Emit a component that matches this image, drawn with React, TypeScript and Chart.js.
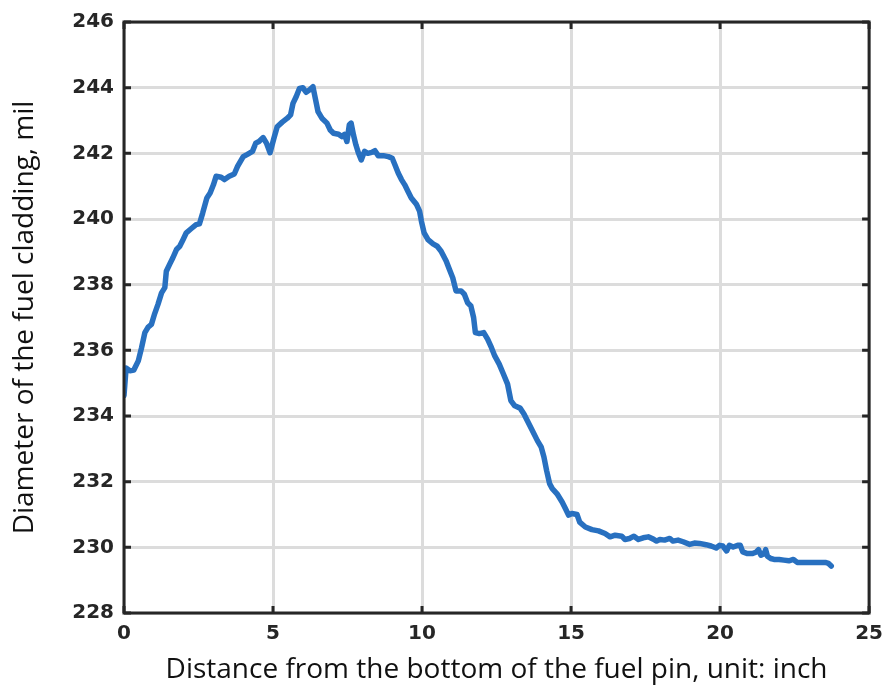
import React, { useEffect, useRef } from "react";
import { Chart, registerables } from "chart.js";

Chart.register(...registerables);

const distanceInch: number[] = [
  0, 0.07, 0.2, 0.33, 0.48, 0.59, 0.7, 0.81, 0.92, 1.03, 1.14, 1.26, 1.37, 1.42, 1.53, 1.64, 1.76, 1.87, 1.98,
  2.09, 2.26, 2.42, 2.53, 2.64, 2.78, 2.89, 3.0, 3.09, 3.26, 3.37, 3.53, 3.7, 3.81, 4.0, 4.14, 4.31, 4.42, 4.53,
  4.67, 4.78, 4.9, 5.03, 5.14, 5.31, 5.48, 5.59, 5.67, 5.78, 5.89, 6.0, 6.11, 6.22, 6.34, 6.42, 6.51, 6.64, 6.81,
  6.92, 7.03, 7.2, 7.31, 7.4, 7.48, 7.56, 7.62, 7.7, 7.78, 7.87, 7.96, 8.07, 8.18, 8.31, 8.42, 8.53, 8.7, 8.87,
  9.0, 9.09, 9.2, 9.31, 9.42, 9.53, 9.64, 9.81, 9.92, 9.98, 10.07, 10.2, 10.37, 10.51, 10.64, 10.81, 10.92, 11.03,
  11.14, 11.31, 11.42, 11.53, 11.64, 11.73, 11.79, 11.92, 12.07, 12.2, 12.33, 12.44, 12.59, 12.73, 12.87, 12.98,
  13.11, 13.29, 13.42, 13.53, 13.7, 13.87, 14.0, 14.09, 14.18, 14.28, 14.37, 14.53, 14.7, 14.81, 14.92, 15.03,
  15.2, 15.29, 15.48, 15.7, 15.92, 16.14, 16.31, 16.48, 16.7, 16.81, 16.96, 17.11, 17.26, 17.42, 17.59, 17.76,
  17.87, 17.98, 18.14, 18.31, 18.42, 18.59, 18.76, 18.98, 19.14, 19.31, 19.53, 19.7, 19.87, 19.98, 20.09, 20.22,
  20.31, 20.44, 20.59, 20.68, 20.76, 20.92, 21.09, 21.22, 21.29, 21.37, 21.48, 21.53, 21.59, 21.7, 21.81, 21.98,
  22.14, 22.31, 22.46, 22.59, 22.87, 23.2, 23.53, 23.64, 23.73,
];

const diameterMil: number[] = [
  234.62, 235.46, 235.38, 235.4, 235.68, 236.08, 236.54, 236.71, 236.79, 237.12, 237.4, 237.75, 237.91, 238.41,
  238.62, 238.82, 239.07, 239.17, 239.37, 239.58, 239.71, 239.83, 239.85, 240.18, 240.64, 240.79, 241.04, 241.3,
  241.27, 241.2, 241.3, 241.37, 241.6, 241.9, 241.97, 242.06, 242.31, 242.36, 242.48, 242.31, 242.02, 242.46,
  242.81, 242.95, 243.07, 243.17, 243.52, 243.73, 243.98, 244.0, 243.86, 243.93, 244.03, 243.67, 243.27, 243.07,
  242.92, 242.71, 242.61, 242.58, 242.51, 242.58, 242.36, 242.87, 242.92, 242.56, 242.26, 242.0, 241.8, 242.06,
  242.0, 242.03, 242.08, 241.93, 241.93, 241.9, 241.85, 241.65, 241.4, 241.2, 241.04, 240.84, 240.64, 240.45,
  240.23, 239.93, 239.58, 239.37, 239.24, 239.17, 239.02, 238.72, 238.46, 238.21, 237.81, 237.81, 237.71, 237.45,
  237.35, 237.0, 236.54, 236.51, 236.54, 236.34, 236.08, 235.83, 235.58, 235.28, 234.97, 234.47, 234.31, 234.24,
  234.06, 233.86, 233.56, 233.25, 233.05, 232.75, 232.34, 231.94, 231.79, 231.63, 231.38, 231.18, 230.98, 231.03,
  231.0, 230.77, 230.62, 230.54, 230.5, 230.42, 230.32, 230.37, 230.34, 230.24, 230.27, 230.34, 230.24, 230.29,
  230.32, 230.25, 230.19, 230.24, 230.22, 230.27, 230.19, 230.22, 230.17, 230.09, 230.13, 230.12, 230.08, 230.04,
  229.98, 230.06, 230.04, 229.89, 230.06, 230.01, 230.06, 230.06, 229.86, 229.81, 229.81, 229.86, 229.93, 229.76,
  229.81, 229.93, 229.73, 229.66, 229.63, 229.63, 229.61, 229.59, 229.63, 229.54, 229.54, 229.54, 229.54, 229.51,
  229.43,
];

const xTicks: number[] = [0, 5, 10, 15, 20, 25];
const yTicks: number[] = [228, 230, 232, 234, 236, 238, 240, 242, 244, 246];

const xTitle = "Distance from the bottom of the fuel pin, unit: inch";
const yTitle = "Diameter of the fuel cladding, mil";

const AXIS_COLOR = "#262626";

const framePlugin = {
  id: "matlabFrame",
  afterDraw(chart: any) {
    const { ctx, chartArea } = chart;
    const xs = chart.scales.x;
    const ys = chart.scales.y;
    const tl = 7;
    ctx.save();
    ctx.strokeStyle = AXIS_COLOR;
    ctx.lineWidth = 3;
    ctx.lineCap = "butt";
    xTicks.forEach((t) => {
      const px = xs.getPixelForValue(t);
      ctx.beginPath();
      ctx.moveTo(px, chartArea.bottom);
      ctx.lineTo(px, chartArea.bottom - tl);
      ctx.moveTo(px, chartArea.top);
      ctx.lineTo(px, chartArea.top + tl);
      ctx.stroke();
    });
    yTicks.forEach((t) => {
      const py = ys.getPixelForValue(t);
      ctx.beginPath();
      ctx.moveTo(chartArea.left, py);
      ctx.lineTo(chartArea.left + tl, py);
      ctx.moveTo(chartArea.right, py);
      ctx.lineTo(chartArea.right - tl, py);
      ctx.stroke();
    });
    ctx.lineJoin = "miter";
    ctx.strokeRect(chartArea.left, chartArea.top, chartArea.right - chartArea.left, chartArea.bottom - chartArea.top);
    ctx.restore();
  },
};

export default function App() {
  const canvasRef = useRef<HTMLCanvasElement | null>(null);

  useEffect(() => {
    document.body.style.margin = "0";
    const canvas = canvasRef.current;
    if (!canvas) return;
    const points = distanceInch.map((x, i) => ({ x, y: diameterMil[i] }));
    const chart = new Chart(canvas, {
      type: "line",
      data: {
        datasets: [
          {
            data: points,
            borderColor: "rgb(40,112,192)",
            borderWidth: 5.5,
            pointRadius: 0,
            tension: 0,
            fill: false,
            borderJoinStyle: "round",
            borderCapStyle: "round",
          },
        ],
      },
      options: {
        responsive: false,
        animation: false,
        devicePixelRatio: 1,
        layout: { padding: { top: 20, right: 17, left: 0, bottom: 0 } },
        plugins: { legend: { display: false }, tooltip: { enabled: false } },
        scales: {
          x: {
            type: "linear",
            min: 0,
            max: 25,
            afterBuildTicks: (s: any) => {
              s.ticks = xTicks.map((v) => ({ value: v }));
            },
            afterFit: (s: any) => {
              s.height = 74;
            },
            ticks: {
              color: AXIS_COLOR,
              font: { family: "DejaVu Sans", size: 20, weight: "bold" },
              padding: 9,
              maxRotation: 0,
            },
            grid: { color: "#dcdcdc", lineWidth: 3, drawTicks: false },
            border: { display: false },
            title: {
              display: true,
              text: xTitle,
              color: "#111111",
              font: { family: "Open Sans", size: 28 },
              padding: { top: 0, bottom: 0 },
            },
          },
          y: {
            type: "linear",
            min: 228,
            max: 246,
            afterBuildTicks: (s: any) => {
              s.ticks = yTicks.map((v) => ({ value: v }));
            },
            afterFit: (s: any) => {
              s.width = 124;
            },
            ticks: {
              color: AXIS_COLOR,
              font: { family: "DejaVu Sans", size: 20, weight: "bold" },
              padding: 10,
            },
            grid: { color: "#dcdcdc", lineWidth: 3, drawTicks: false },
            border: { display: false },
            title: {
              display: true,
              text: yTitle,
              color: "#111111",
              font: { family: "Open Sans", size: 28 },
              padding: { top: 8, bottom: 0 },
            },
          },
        },
      },
      plugins: [framePlugin],
    });
    return () => chart.destroy();
  }, []);

  return (
    <div style={{ position: "absolute", left: 0, top: 0, width: 892, height: 687, background: "#fff" }}>
      <canvas ref={canvasRef} width={892} height={687} style={{ width: 892, height: 687, display: "block" }} />
    </div>
  );
}
